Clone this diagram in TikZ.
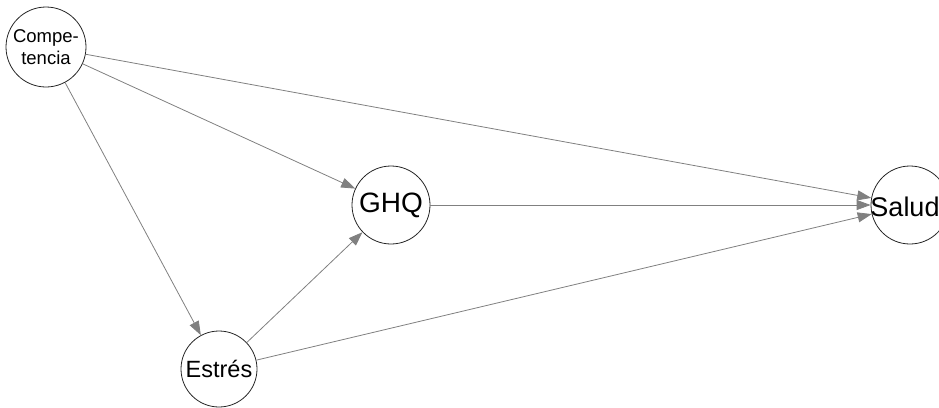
\documentclass[tikz,border=0pt]{standalone}
\usepackage{fontspec}
\setmainfont{Liberation Sans}
\usetikzlibrary{arrows.meta}
\begin{document}
\begin{tikzpicture}[x=1pt,y=-1pt,
  vnode/.style={circle,draw=black!85,line width=0.8pt,fill=white,inner sep=0pt,minimum size=78pt,text=black},
  edge/.style={draw=black!50,line width=0.8pt,-{Triangle[length=14pt,width=10pt]},color=black!50}]
\useasboundingbox (0,0) rectangle (939,407);
\clip (0,0) rectangle (939,407);
\node[vnode,minimum size=80pt,align=center,font=\fontsize{18.5}{22}\selectfont] (C) at (46,47) {Compe-\\tencia};
\node[vnode,font=\fontsize{28}{30}\selectfont] (G) at (391,205) {GHQ};
\node[vnode] (S) at (910,205) {};
\node[inner sep=0pt,text=black,font=\fontsize{27}{30}\selectfont] (St) at (905,207) {Salud};
\node[vnode,minimum size=76pt,font=\fontsize{23.5}{26}\selectfont] (E) at (219,369) {Estrés};
\draw[edge] (C) -- (S);
\draw[edge] (C) -- (G);
\draw[edge] (C) -- (E);
\draw[edge] (G) -- (S);
\draw[edge] (E) -- (G);
\draw[edge] (E) -- (S);
\end{tikzpicture}
\end{document}
